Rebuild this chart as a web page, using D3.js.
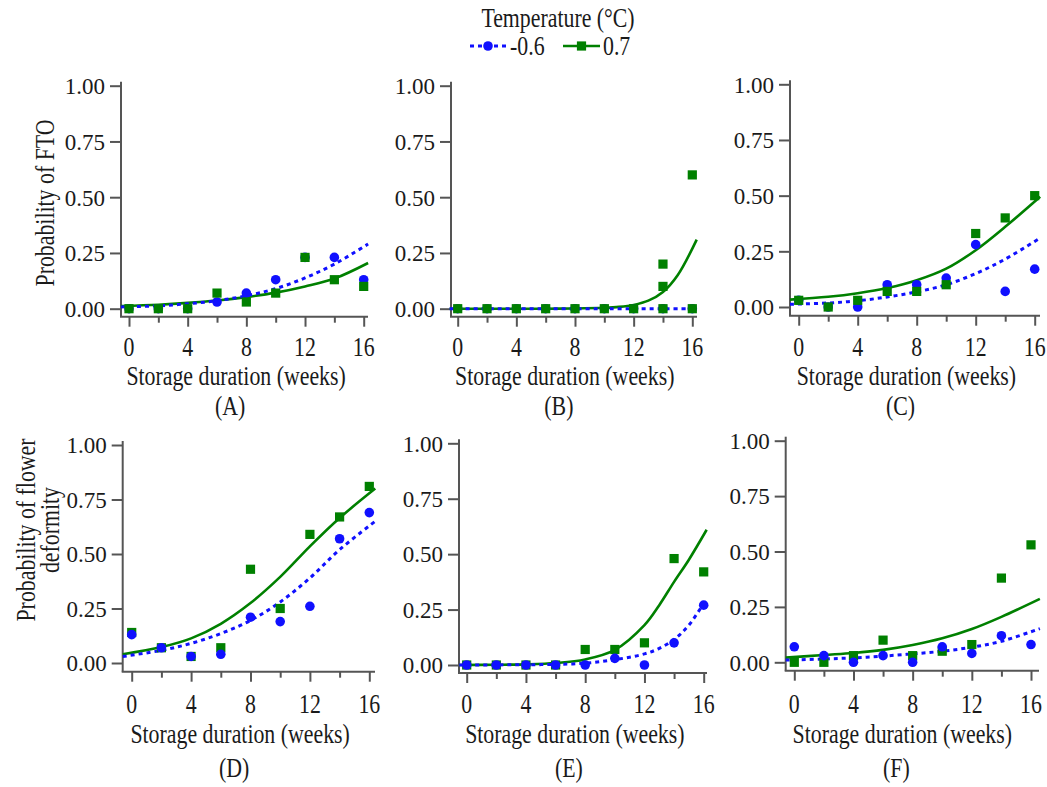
<!DOCTYPE html>
<html><head><meta charset="utf-8">
<script src="https://cdn.jsdelivr.net/npm/d3@7"></script>
<style>
body{margin:0;background:#fff}
svg{display:block}
svg text{font-family:"Liberation Serif","Times New Roman",Times,serif;}
</style>
</head><body>
<svg id="chart" width="1047" height="787"></svg>
<script>
// ---------- DATA ----------
const weeks = [0, 2, 4, 6, 8, 10, 12, 14, 16];
const xTickValues = [0, 2, 4, 6, 8, 10, 12, 14, 16];
const xLabelValues = [0, 4, 8, 12, 16];
const yTickValues = [0, 0.25, 0.5, 0.75, 1];
const seriesNames = ["-0.6", "0.7"];
const legendTitle = "Temperature (\u00B0C)";
const panelLabels = ["(A)", "(B)", "(C)", "(D)", "(E)", "(F)"];
const xAxisTitle = "Storage duration (weeks)";
const yTitleTop = ["Probability of FTO"];
const yTitleBottom = ["Probability of flower", "deformity"];

// observed proportions (-0.6 °C = cold, 0.7 °C = warm)
const obsA_cold = [0, 0, 0, 0.03, 0.07, 0.13, 0.23, 0.23, 0.13];
const obsA_warm = [0, 0, 0, 0.07, 0.03, 0.07, 0.23, 0.13, 0.10];
const obsB_cold = [0, 0, 0, 0, 0, 0, 0, 0, 0];
const obsB_warmWeeks = [0, 2, 4, 6, 8, 10, 12, 14, 14, 14, 16, 16];
const obsB_warm = [0, 0, 0, 0, 0, 0, 0, 0.20, 0.10, 0, 0.60, 0];
const obsC_cold = [0.03, 0, 0, 0.10, 0.10, 0.13, 0.28, 0.07, 0.17];
const obsC_warm = [0.03, 0, 0.03, 0.07, 0.07, 0.10, 0.33, 0.40, 0.50];
const obsD_cold = [0.13, 0.07, 0.03, 0.04, 0.21, 0.19, 0.26, 0.57, 0.69];
const obsD_warm = [0.14, 0.07, 0.03, 0.07, 0.43, 0.25, 0.59, 0.67, 0.81];
const obsE_cold = [0, 0, 0, 0, 0, 0.03, 0, 0.10, 0.27];
const obsE_warm = [0, 0, 0, 0, 0.07, 0.07, 0.10, 0.48, 0.42];
const obsF_cold = [0.07, 0.03, 0, 0.03, 0, 0.07, 0.04, 0.12, 0.08];
const obsF_warm = [0, 0, 0.03, 0.10, 0.03, 0.05, 0.08, 0.38, 0.53];

// fitted curves
const fitA_weeks = [-0.55, 2, 4, 6, 8, 10, 12, 14, 16.3];
const fitA_cold = [0.008, 0.013, 0.022, 0.036, 0.058, 0.09, 0.138, 0.2, 0.29];
const fitA_warm = [0.012, 0.018, 0.026, 0.037, 0.052, 0.072, 0.10, 0.135, 0.205];
const fitB_weeks = [-0.55, 2, 4, 6, 8, 10, 11, 12, 13, 14, 15, 16.3];
const fitB_cold = [0, 0, 0, 0, 0, 0, 0, 0, 0, 0, 0, 0];
const fitB_warm = [0, 0, 0, 0, 0.001, 0.004, 0.008, 0.017, 0.036, 0.075, 0.15, 0.31];
const fitC_weeks = [-0.59, 2, 4, 6, 8, 10, 12, 14, 16.37];
const fitC_cold = [0.012, 0.018, 0.028, 0.045, 0.068, 0.10, 0.15, 0.215, 0.31];
const fitC_warm = [0.033, 0.046, 0.062, 0.085, 0.12, 0.172, 0.255, 0.36, 0.495];
const fitD_weeks = [-0.6, 2, 4, 6, 8, 10, 12, 14, 16.4];
const fitD_cold = [0.03, 0.058, 0.09, 0.135, 0.195, 0.28, 0.39, 0.52, 0.65];
const fitD_warm = [0.04, 0.073, 0.113, 0.18, 0.275, 0.395, 0.535, 0.665, 0.80];
const fitE_weeks = [-0.5, 2, 4, 6, 8, 10, 12, 13, 14, 15, 16.2];
const fitE_cold = [0, 0.0005, 0.001, 0.003, 0.008, 0.024, 0.05, 0.075, 0.115, 0.18, 0.30];
const fitE_warm = [0, 0.001, 0.003, 0.009, 0.025, 0.068, 0.18, 0.27, 0.375, 0.475, 0.61];
const fitF_weeks = [-0.58, 2, 4, 6, 8, 10, 12, 14, 16.6];
const fitF_cold = [0.01, 0.015, 0.02, 0.028, 0.038, 0.05, 0.068, 0.095, 0.152];
const fitF_warm = [0.021, 0.033, 0.042, 0.056, 0.078, 0.108, 0.15, 0.205, 0.286];

// ---------- STYLE / LAYOUT ----------
const COLD = "#1010ff", WARM = "#008000", AXIS = "#555", TEXT = "#1a1a1a";
const SX = 0.78, FS = 28;

const panels = [
  {label: panelLabels[0], row: 0, yAxisX: 121, x0: 129, x16: 363.7, xEnd: 368, y0: 308.7, y1: 85.7, axisY: 316.7,
   cold: {wk: weeks, v: obsA_cold}, warm: {wk: weeks, v: obsA_warm},
   fit: {wk: fitA_weeks, cold: fitA_cold, warm: fitA_warm}, top: "warm"},
  {label: panelLabels[1], row: 0, yAxisX: 451, x0: 457.7, x16: 692.3, xEnd: 697, y0: 308.7, y1: 85.7, axisY: 316.7,
   cold: {wk: weeks, v: obsB_cold}, warm: {wk: obsB_warmWeeks, v: obsB_warm},
   fit: {wk: fitB_weeks, cold: fitB_cold, warm: fitB_warm}, top: "warm"},
  {label: panelLabels[2], row: 0, yAxisX: 790, x0: 798.7, x16: 1034.7, xEnd: 1040, y0: 307, y1: 84.3, axisY: 315.7,
   cold: {wk: weeks, v: obsC_cold}, warm: {wk: weeks, v: obsC_warm},
   fit: {wk: fitC_weeks, cold: fitC_cold, warm: fitC_warm}, top: "warm"},
  {label: panelLabels[3], row: 1, yAxisX: 122.7, x0: 131.7, x16: 369.3, xEnd: 375, y0: 663, y1: 445, axisY: 671.7,
   cold: {wk: weeks, v: obsD_cold}, warm: {wk: weeks, v: obsD_warm},
   fit: {wk: fitD_weeks, cold: fitD_cold, warm: fitD_warm}, top: "cold"},
  {label: panelLabels[4], row: 1, yAxisX: 459, x0: 466.7, x16: 703.7, xEnd: 707, y0: 665, y1: 443.3, axisY: 673,
   cold: {wk: weeks, v: obsE_cold}, warm: {wk: weeks, v: obsE_warm},
   fit: {wk: fitE_weeks, cold: fitE_cold, warm: fitE_warm}, top: "cold"},
  {label: panelLabels[5], row: 1, yAxisX: 785.7, x0: 794.3, x16: 1031, xEnd: 1039, y0: 662.3, y1: 440.7, axisY: 670.7,
   cold: {wk: weeks, v: obsF_cold}, warm: {wk: weeks, v: obsF_warm},
   fit: {wk: fitF_weeks, cold: fitF_cold, warm: fitF_warm}, top: "cold"}
];
const rowText = [
  {tickBase: 356, titleBase: 385, labelBase: 415},
  {tickBase: 713, titleBase: 743, labelBase: 777}
];

const svg = d3.select("#chart");

function condText(g, x, y, txt, anchor, size) {
  return g.append("text")
    .attr("transform", `translate(${x},${y}) scale(${SX},1)`)
    .attr("text-anchor", anchor || "middle")
    .style("font-size", (size || FS) + "px")
    .attr("fill", TEXT).text(txt);
}

function drawMarker(g, type, cx, cy, color) {
  if (type === "cold") {
    g.append("circle").attr("cx", cx).attr("cy", cy).attr("r", 4.8).attr("fill", color);
  } else {
    g.append("rect").attr("x", cx - 4.6).attr("y", cy - 4.6).attr("width", 9.2).attr("height", 9.2).attr("fill", color);
  }
}

panels.forEach(p => {
  const g = svg.append("g");
  const x = d3.scaleLinear().domain([0, 16]).range([p.x0, p.x16]);
  const y = d3.scaleLinear().domain([0, 1]).range([p.y0, p.y1]);

  // y axis
  const ya = g.append("g").attr("transform", `translate(${p.yAxisX},0)`)
    .call(d3.axisLeft(y).tickValues(yTickValues).tickFormat(d3.format(".2f")).tickSize(11).tickPadding(5));
  ya.attr("font-family", null).attr("font-size", null);
  ya.select(".domain").remove();
  ya.selectAll(".tick line").attr("stroke", AXIS).attr("stroke-width", 2);
  ya.selectAll(".tick text").style("font-size", "23px").attr("fill", TEXT).attr("dy", "0.34em");
  g.append("line").attr("x1", p.yAxisX).attr("x2", p.yAxisX).attr("y1", p.y1 - 4).attr("y2", p.axisY)
    .attr("stroke", AXIS).attr("stroke-width", 2);

  // x axis
  const xa = g.append("g").attr("transform", `translate(0,${p.axisY})`)
    .call(d3.axisBottom(x).tickValues(xTickValues).tickSize(10).tickFormat(""));
  xa.select(".domain").remove();
  xa.selectAll(".tick line").attr("stroke", AXIS).attr("stroke-width", 2)
    .attr("y2", d => xLabelValues.includes(d) ? 10 : 6);
  g.append("line").attr("x1", p.yAxisX - 1).attr("x2", p.xEnd).attr("y1", p.axisY).attr("y2", p.axisY)
    .attr("stroke", AXIS).attr("stroke-width", 2);
  const rt = rowText[p.row];
  xLabelValues.forEach(v => condText(g, x(v), rt.tickBase, String(v)));
  condText(g, x(7.3), rt.titleBase, xAxisTitle);
  condText(g, x(6.9), rt.labelBase, p.label);

  // fitted curves
  const line = d3.line().x(d => x(d[0])).y(d => y(d[1])).curve(d3.curveCatmullRom.alpha(0.5));
  const warmFit = p.fit.wk.map((w, i) => [w, p.fit.warm[i]]);
  const coldFit = p.fit.wk.map((w, i) => [w, p.fit.cold[i]]);
  g.append("path").attr("d", line(warmFit)).attr("fill", "none").attr("stroke", WARM).attr("stroke-width", 2.6);
  g.append("path").attr("d", line(coldFit)).attr("fill", "none").attr("stroke", COLD).attr("stroke-width", 3)
    .attr("stroke-dasharray", "4,4");

  // observed points
  const order = p.top === "warm" ? ["cold", "warm"] : ["warm", "cold"];
  order.forEach(s => {
    const d = p[s];
    d.wk.forEach((w, i) => drawMarker(g, s, x(w), y(d.v[i]), s === "cold" ? COLD : WARM));
  });
});

// y-axis titles
(function () {
  const g = svg.append("g");
  g.append("text").attr("transform", `translate(45,203) rotate(-90) scale(${SX},1)`)
    .attr("text-anchor", "middle").attr("dominant-baseline", "central")
    .style("font-size", FS + "px").attr("fill", TEXT).text(yTitleTop[0]);
  yTitleBottom.forEach((t, i) => {
    g.append("text").attr("transform", `translate(${26 + i * 24},530) rotate(-90) scale(${SX},1)`)
      .attr("text-anchor", "middle").attr("dominant-baseline", "central")
      .style("font-size", FS + "px").attr("fill", TEXT).text(t);
  });
})();

// legend
(function () {
  const g = svg.append("g");
  condText(g, 558, 27, legendTitle);
  const ly = 46;
  g.append("line").attr("x1", 470).attr("x2", 507).attr("y1", ly).attr("y2", ly)
    .attr("stroke", COLD).attr("stroke-width", 3).attr("stroke-dasharray", "4,4");
  drawMarker(g, "cold", 488, ly, COLD);
  condText(g, 510, 55, seriesNames[0], "start");
  g.append("line").attr("x1", 563).attr("x2", 600).attr("y1", ly).attr("y2", ly)
    .attr("stroke", WARM).attr("stroke-width", 2.6);
  drawMarker(g, "warm", 581.5, ly, WARM);
  condText(g, 603, 55, seriesNames[1], "start");
})();
</script>
</body></html>
